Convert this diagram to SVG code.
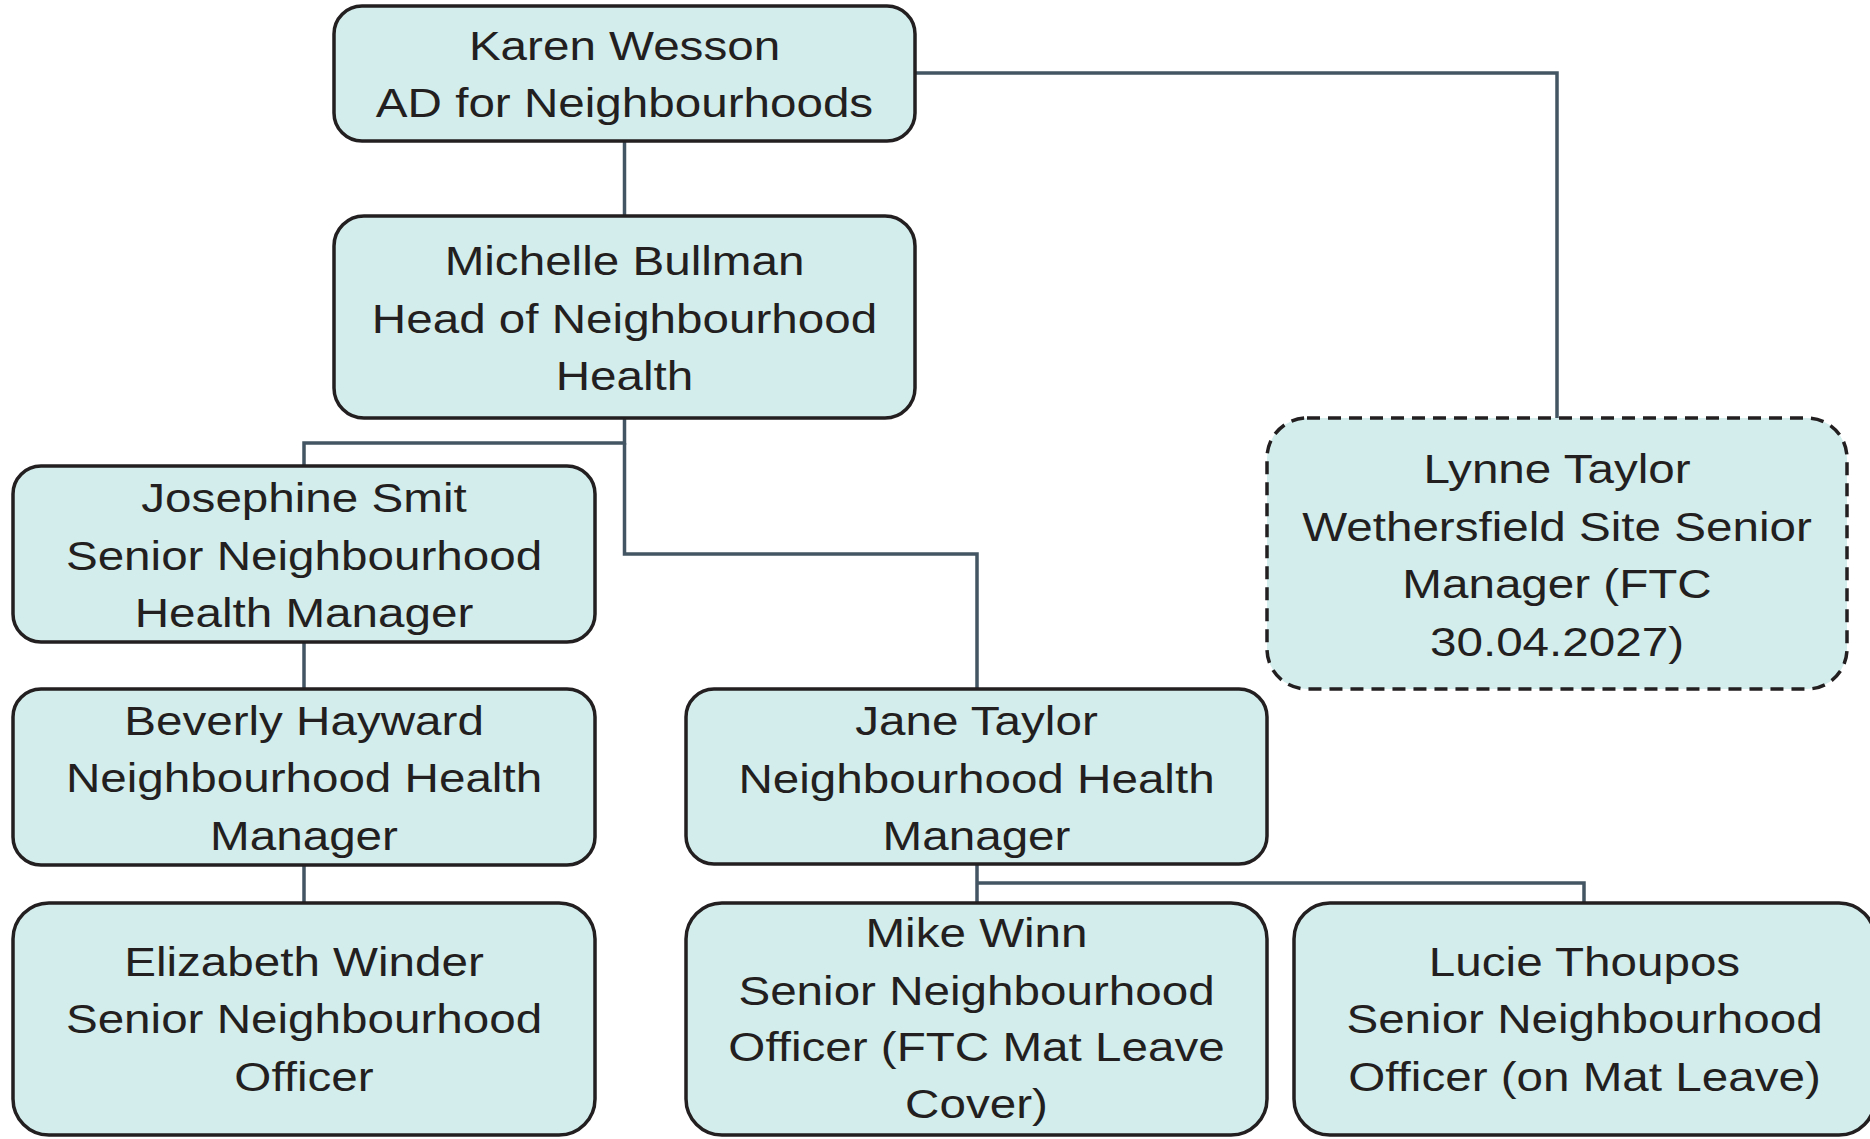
<svg xmlns="http://www.w3.org/2000/svg" width="1870" height="1139" viewBox="0 0 1870 1139">
<style>
.box{fill:#d3eded;stroke:#231f20;stroke-width:3.5}
.dash{stroke-dasharray:13 8}
.lbl{font-family:"Liberation Sans",Arial,sans-serif;font-size:40px;fill:#231f20;text-anchor:middle}
.conn{fill:none;stroke:#435563;stroke-width:3.5}
</style>
<rect width="1870" height="1139" fill="#ffffff"/>
<g id="connectors">
<path class="conn" d="M624.5 141 V216"/>
<path class="conn" d="M915 73 H1557 V418"/>
<path class="conn" d="M624.5 418 V443 H304 V466"/>
<path class="conn" d="M624.5 443 V554 H977 V689"/>
<path class="conn" d="M304 642 V689"/>
<path class="conn" d="M304 865 V903"/>
<path class="conn" d="M977 864 V903"/>
<path class="conn" d="M977 883 H1584 V903"/>
</g>
<g id="karen">
<rect class="box" x="334" y="6" width="581" height="135" rx="28"/>
<text class="lbl" transform="matrix(1.19 0 0 1 624.5 -2)"><tspan x="0" y="62">Karen Wesson</tspan><tspan x="0" y="119">AD for Neighbourhoods</tspan></text>
</g>
<g id="michelle">
<rect class="box" x="334" y="216" width="581" height="202" rx="30"/>
<text class="lbl" transform="matrix(1.19 0 0 1 624.5 -2)"><tspan x="0" y="277">Michelle Bullman</tspan><tspan x="0" y="335">Head of Neighbourhood</tspan><tspan x="0" y="392">Health</tspan></text>
</g>
<g id="lynne">
<rect class="box dash" x="1267" y="418" width="580" height="271" rx="40"/>
<text class="lbl" transform="matrix(1.19 0 0 1 1557 -2)"><tspan x="0" y="485">Lynne Taylor</tspan><tspan x="0" y="543">Wethersfield Site Senior</tspan><tspan x="0" y="600">Manager (FTC</tspan><tspan x="0" y="658">30.04.2027)</tspan></text>
</g>
<g id="josephine">
<rect class="box" x="13" y="466" width="582" height="176" rx="28"/>
<text class="lbl" transform="matrix(1.19 0 0 1 304 -2)"><tspan x="0" y="514">Josephine Smit</tspan><tspan x="0" y="572">Senior Neighbourhood</tspan><tspan x="0" y="629">Health Manager</tspan></text>
</g>
<g id="beverly">
<rect class="box" x="13" y="689" width="582" height="176" rx="28"/>
<text class="lbl" transform="matrix(1.19 0 0 1 304 -2)"><tspan x="0" y="737">Beverly Hayward</tspan><tspan x="0" y="794">Neighbourhood Health</tspan><tspan x="0" y="852">Manager</tspan></text>
</g>
<g id="jane">
<rect class="box" x="686" y="689" width="581" height="175" rx="28"/>
<text class="lbl" transform="matrix(1.19 0 0 1 976.5 -2)"><tspan x="0" y="737">Jane Taylor</tspan><tspan x="0" y="795">Neighbourhood Health</tspan><tspan x="0" y="852">Manager</tspan></text>
</g>
<g id="elizabeth">
<rect class="box" x="13" y="903" width="582" height="232" rx="36"/>
<text class="lbl" transform="matrix(1.19 0 0 1 304 -2)"><tspan x="0" y="978">Elizabeth Winder</tspan><tspan x="0" y="1035">Senior Neighbourhood</tspan><tspan x="0" y="1093">Officer</tspan></text>
</g>
<g id="mike">
<rect class="box" x="686" y="903" width="581" height="232" rx="36"/>
<text class="lbl" transform="matrix(1.19 0 0 1 976.5 -2)"><tspan x="0" y="949">Mike Winn</tspan><tspan x="0" y="1007">Senior Neighbourhood</tspan><tspan x="0" y="1063">Officer (FTC Mat Leave</tspan><tspan x="0" y="1120">Cover)</tspan></text>
</g>
<g id="lucie">
<rect class="box" x="1294" y="903" width="581" height="232" rx="36"/>
<text class="lbl" transform="matrix(1.19 0 0 1 1584.5 -2)"><tspan x="0" y="978">Lucie Thoupos</tspan><tspan x="0" y="1035">Senior Neighbourhood</tspan><tspan x="0" y="1093">Officer (on Mat Leave)</tspan></text>
</g>
</svg>
